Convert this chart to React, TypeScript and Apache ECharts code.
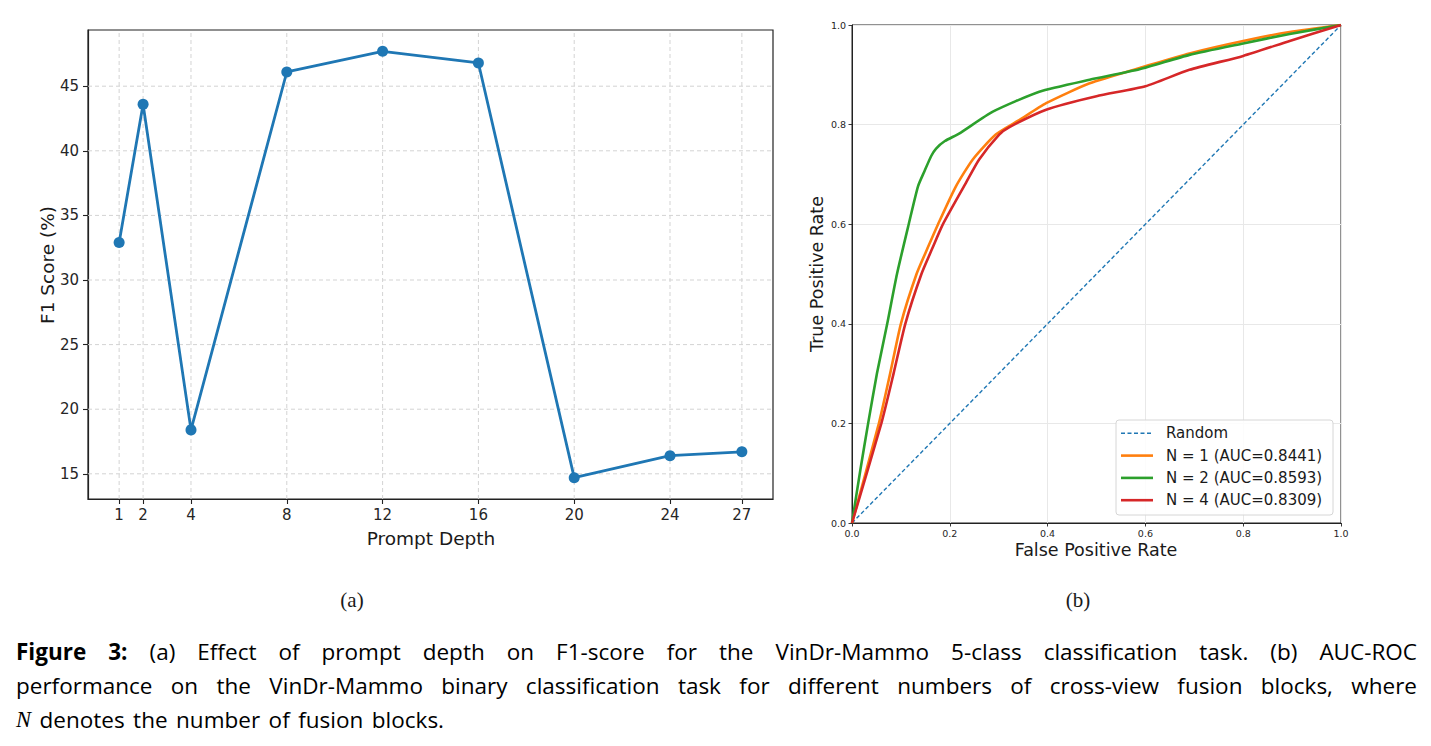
import React, { useEffect, useRef } from "react";
import * as echarts from "echarts";

// (a) F1-score versus prompt depth
const promptDepth = [1, 2, 4, 8, 12, 16, 20, 24, 27];
const f1Score = [32.9, 43.6, 18.4, 46.1, 47.7, 46.8, 14.7, 16.4, 16.7];
const depthTicks = [1, 2, 4, 8, 12, 16, 20, 24, 27];
const f1Ticks = [15, 20, 25, 30, 35, 40, 45];
const depthRange = [-0.3, 28.3];
const f1Range = [13.05, 49.35];

// (b) ROC curves for the fusion-block variants
const fprRandom = [0, 1];
const tprRandom = [0, 1];
const fprN1 = [0, 0.055, 0.078, 0.1, 0.132, 0.155, 0.176, 0.212, 0.247, 0.294, 0.342, 0.397, 0.486, 0.6, 0.69, 0.8, 0.895, 1];
const tprN1 = [0, 0.2, 0.3, 0.4, 0.5, 0.553, 0.6, 0.675, 0.73, 0.78, 0.809, 0.843, 0.883, 0.917, 0.943, 0.968, 0.986, 1];
const fprN2 = [0, 0.017, 0.033, 0.051, 0.072, 0.092, 0.116, 0.135, 0.148, 0.162, 0.172, 0.19, 0.219, 0.288, 0.383, 0.486, 0.588, 0.69, 0.8, 0.895, 1];
const tprN2 = [0, 0.106, 0.2, 0.3, 0.4, 0.5, 0.6, 0.676, 0.706, 0.737, 0.752, 0.767, 0.782, 0.826, 0.866, 0.89, 0.911, 0.94, 0.963, 0.982, 1];
const fprN4 = [0, 0.06, 0.085, 0.109, 0.142, 0.165, 0.186, 0.233, 0.26, 0.301, 0.322, 0.397, 0.5, 0.6, 0.69, 0.8, 0.895, 1];
const tprN4 = [0, 0.2, 0.3, 0.4, 0.5, 0.553, 0.6, 0.683, 0.73, 0.78, 0.795, 0.83, 0.857, 0.877, 0.91, 0.938, 0.968, 1];
const rocNames = ["Random", "N = 1 (AUC=0.8441)", "N = 2 (AUC=0.8593)", "N = 4 (AUC=0.8309)"];
const rocColors = ["#1f77b4", "#ff7f0e", "#2ca02c", "#d62728"];

const captionLine1 = "Figure 3: (a) Effect of prompt depth on F1-score for the VinDr-Mammo 5-class classification task. (b) AUC-ROC";
const captionLine2 = "performance on the VinDr-Mammo binary classification task for different numbers of cross-view fusion blocks, where";
const captionLine3 = "N denotes the number of fusion blocks.";

const SANS = "'DejaVu Sans'";
const CAP_FONT = "'Open Sans'";
const CAP_SIZE = 22.5;

const pairs = (xs: number[], ys: number[]) => xs.map((x, i) => [x, ys[i]]);

let measureCtx: CanvasRenderingContext2D | null = null;
function textWidth(s: string, font: string) {
  if (!measureCtx) measureCtx = document.createElement("canvas").getContext("2d");
  measureCtx!.font = font;
  return measureCtx!.measureText(s).width;
}

type Tok = { text: string; weight?: string; italic?: boolean; family?: string };

function layoutLine(tokens: Tok[], x0: number, x1: number, y: number, justify: boolean) {
  const fontOf = (t: Tok) =>
    `${t.italic ? "italic" : "normal"} ${t.weight || "normal"} ${CAP_SIZE}px ${t.family || CAP_FONT}`;
  const widths = tokens.map((t) => textWidth(t.text, fontOf(t)));
  const total = widths.reduce((a, b) => a + b, 0);
  const gap = justify ? (x1 - x0 - total) / (tokens.length - 1) : 8.5;
  let x = x0;
  return tokens.map((t, i) => {
    const el = {
      type: "text",
      x,
      y,
      silent: true,
      style: {
        text: t.text,
        fontSize: CAP_SIZE,
        fontFamily: t.family || CAP_FONT,
        fontWeight: t.weight || "normal",
        fontStyle: t.italic ? "italic" : "normal",
        fill: "#000",
        align: "left",
        verticalAlign: "middle",
      },
    };
    x += widths[i] + gap;
    return el;
  });
}

function buildCaption() {
  const l1: Tok[] = captionLine1.split(" ").map((w, i) => ({ text: w, weight: i < 2 ? "bold" : "normal" }));
  const l2: Tok[] = captionLine2.split(" ").map((w) => ({ text: w }));
  const l3: Tok[] = captionLine3
    .split(" ")
    .map((w, i) => (i === 0 ? { text: w, italic: true, family: "'Liberation Serif'" } : { text: w }));
  return [
    ...layoutLine(l1, 16, 1417, 651, true),
    ...layoutLine(l2, 16, 1417, 685, true),
    ...layoutLine(l3, 16, 1417, 719, false),
  ];
}

function label(text: string, x: number, y: number, size: number, rotate = false, family = SANS) {
  return {
    type: "text",
    x,
    y,
    rotation: rotate ? Math.PI / 2 : 0,
    silent: true,
    style: {
      text,
      fontSize: size,
      fontFamily: family,
      fill: "#1a1a1a",
      align: "center",
      verticalAlign: "middle",
    },
  };
}

// Legend box for the ROC panel, one row per curve
function buildLegend() {
  const box = { x: 1116, y: 420, w: 217, h: 95 };
  const rowY0 = 433.3;
  const rowStep = 22.3;
  const els: any[] = [
    {
      type: "rect",
      z: 100,
      silent: true,
      shape: { x: box.x, y: box.y, width: box.w, height: box.h, r: 3 },
      style: { fill: "rgba(255,255,255,0.85)", stroke: "#d6d6d6", lineWidth: 1 },
    },
  ];
  rocNames.forEach((name, i) => {
    const y = rowY0 + i * rowStep;
    els.push({
      type: "line",
      z: 101,
      silent: true,
      shape: { x1: 1121, y1: y, x2: 1153, y2: y },
      style: {
        stroke: rocColors[i],
        lineWidth: i === 0 ? 1.5 : 2.6,
        lineDash: i === 0 ? [4, 2.5] : null,
      },
    });
    els.push({
      type: "text",
      z: 101,
      silent: true,
      x: 1166,
      y,
      style: {
        text: name,
        fontSize: 15,
        fontFamily: SANS,
        fill: "#1a1a1a",
        align: "left",
        verticalAlign: "middle",
      },
    });
  });
  return els;
}

function buildOption() {
  const gridDash = { type: [4, 3], color: "#d3d3d3", width: 1 };
  const leftGridLines: any[] = [
    ...depthTicks.map((v) => ({
      type: "line",
      xAxisIndex: 0,
      yAxisIndex: 0,
      data: [
        [v, f1Range[0]],
        [v, f1Range[1]],
      ],
      symbol: "none",
      silent: true,
      z: 1,
      lineStyle: gridDash,
    })),
    ...f1Ticks.map((v) => ({
      type: "line",
      xAxisIndex: 0,
      yAxisIndex: 0,
      data: [
        [depthRange[0], v],
        [depthRange[1], v],
      ],
      symbol: "none",
      silent: true,
      z: 1,
      lineStyle: gridDash,
    })),
  ];

  const rocLine = (i: number, xs: number[], ys: number[]) => ({
    name: rocNames[i],
    type: "line",
    xAxisIndex: 1,
    yAxisIndex: 1,
    data: pairs(xs, ys),
    symbol: "none",
    smooth: 0.2,
    z: 3,
    lineStyle: { color: rocColors[i], width: 2.6 },
    itemStyle: { color: rocColors[i] },
  });

  const axisColor = "#222";
  const smallTick = {
    fontSize: 9.5,
    fontFamily: SANS,
    color: "#262626",
    formatter: (v: number) => v.toFixed(1),
  };
  return {
    animation: false,
    backgroundColor: "#fff",
    grid: [
      { left: 88, top: 30, width: 685, height: 469, show: true, borderColor: axisColor, borderWidth: 1.2 },
      { left: 852, top: 25, width: 489, height: 498, show: true, borderColor: axisColor, borderWidth: 1 },
    ],
    xAxis: [
      {
        type: "value",
        gridIndex: 0,
        min: depthRange[0],
        max: depthRange[1],
        axisLine: { show: true, onZero: false, lineStyle: { color: axisColor, width: 1.2 } },
        axisTick: { show: true, customValues: depthTicks, length: 5, lineStyle: { color: axisColor, width: 1.1 } },
        axisLabel: { customValues: depthTicks, fontSize: 15, fontFamily: SANS, color: "#262626", margin: 8 },
        splitLine: { show: false },
      },
      {
        type: "value",
        gridIndex: 1,
        min: 0,
        max: 1,
        interval: 0.2,
        axisLine: { show: true, onZero: false, lineStyle: { color: axisColor, width: 1 } },
        axisTick: { show: true, length: 3.5, lineStyle: { color: axisColor, width: 0.9 } },
        axisLabel: { ...smallTick, margin: 5 },
        splitLine: { show: true, lineStyle: { color: "#e8e8e8", width: 1 } },
      },
    ],
    yAxis: [
      {
        type: "value",
        gridIndex: 0,
        min: f1Range[0],
        max: f1Range[1],
        axisLine: { show: true, onZero: false, lineStyle: { color: axisColor, width: 1.2 } },
        axisTick: { show: true, customValues: f1Ticks, length: 5, lineStyle: { color: axisColor, width: 1.1 } },
        axisLabel: { customValues: f1Ticks, fontSize: 15, fontFamily: SANS, color: "#262626", margin: 9 },
        splitLine: { show: false },
      },
      {
        type: "value",
        gridIndex: 1,
        min: 0,
        max: 1,
        interval: 0.2,
        axisLine: { show: true, onZero: false, lineStyle: { color: axisColor, width: 1 } },
        axisTick: { show: true, length: 3.5, lineStyle: { color: axisColor, width: 0.9 } },
        axisLabel: { ...smallTick, margin: 6 },
        splitLine: { show: true, lineStyle: { color: "#e8e8e8", width: 1 } },
      },
    ],
    series: [
      ...leftGridLines,
      {
        name: "F1",
        type: "line",
        xAxisIndex: 0,
        yAxisIndex: 0,
        data: pairs(promptDepth, f1Score),
        symbol: "circle",
        symbolSize: 11,
        z: 3,
        lineStyle: { color: "#1f77b4", width: 2.8 },
        itemStyle: { color: "#1f77b4" },
      },
      {
        name: rocNames[0],
        type: "line",
        xAxisIndex: 1,
        yAxisIndex: 1,
        data: pairs(fprRandom, tprRandom),
        symbol: "none",
        z: 2,
        lineStyle: { color: rocColors[0], width: 1.4, type: [4, 2.5] },
        itemStyle: { color: rocColors[0] },
      },
      rocLine(1, fprN1, tprN1),
      rocLine(2, fprN2, tprN2),
      rocLine(3, fprN4, tprN4),
    ],
    graphic: [
      label("F1 Score (%)", 47, 265, 18.5, true),
      label("Prompt Depth", 431, 538, 18.5),
      label("True Positive Rate", 817, 274, 17.5, true),
      label("False Positive Rate", 1096, 550, 17.5),
      label("(a)", 352, 600, 21, false, "'Liberation Serif'"),
      label("(b)", 1078, 600, 21, false, "'Liberation Serif'"),
      ...buildLegend(),
      ...buildCaption(),
    ],
  };
}

export default function App() {
  const ref = useRef<HTMLDivElement>(null);
  useEffect(() => {
    if (!ref.current) return;
    const chart = echarts.init(ref.current, null, { renderer: "svg" });
    chart.setOption(buildOption() as any);
    return () => chart.dispose();
  }, []);
  return (
    <div
      ref={ref}
      style={{ position: "fixed", left: 0, top: 0, width: 1431, height: 746, background: "#fff" }}
    />
  );
}
